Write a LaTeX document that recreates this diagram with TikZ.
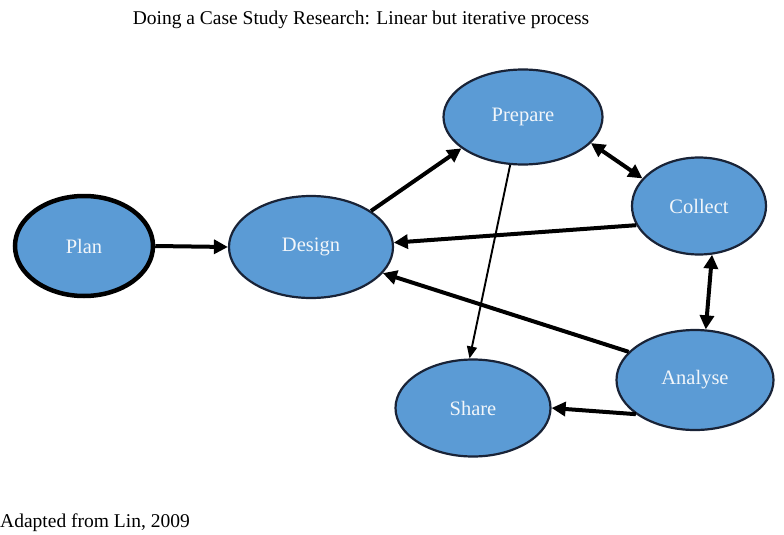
\documentclass[tikz,border=0pt]{standalone}
\usepackage{fontspec}
\setmainfont{Liberation Serif}
\usetikzlibrary{shapes.geometric,arrows.meta}
\definecolor{nodeblue}{RGB}{91,155,213}
\definecolor{nodeedge}{RGB}{25,35,55}
\definecolor{nodetext}{RGB}{242,246,250}
\tikzset{
  stage/.style={ellipse, draw=nodeedge, line width=2.2pt, fill=nodeblue, inner sep=0pt,
    text=nodetext, font=\fontsize{20.5}{24}\selectfont},
  flow/.style={line width=4pt, -{Triangle[length=14pt,width=14pt]}},
  twoway/.style={line width=4pt, {Triangle[length=14pt,width=14pt]}-{Triangle[length=14pt,width=14pt]}},
  thinflow/.style={line width=1.9pt, -{Triangle[length=12pt,width=10pt]}},
  caption/.style={font=\fontsize{19.5}{23}\selectfont, text=black, inner sep=0pt}
}
\begin{document}
\begin{tikzpicture}[x=1pt,y=-1pt]
\useasboundingbox (0,0) rectangle (784,535);
\node[caption] (title) at (361,20) {Doing a Case Study Research: Linear but iterative process};
\node[caption, anchor=west] (foot) at (0,523) {Adapted from Lin, 2009};

\node[stage, line width=4.5pt, draw=black, minimum width=138pt, minimum height=100pt] (plan) at (84,246) {Plan};
\node[stage, minimum width=164pt, minimum height=102pt] (design) at (311,247) {Design};
\node[stage, minimum width=159pt, minimum height=95pt] (prepare) at (523,117) {Prepare};
\node[stage, minimum width=134pt, minimum height=97pt] (collect) at (699,206) {Collect};
\node[stage, minimum width=157pt, minimum height=100pt] (analyse) at (695,380) {Analyse};
\node[stage, minimum width=155pt, minimum height=97pt] (share) at (473,408) {Share};

\draw[flow] (plan.east) -- (design.west);
\draw[flow] (design.31) -- (prepare.207);
\draw[twoway] (prepare.339) -- (collect.154);
\draw[flow] (collect.197) -- (design.3);
\draw[thinflow] (prepare.255) -- (share.94);
\draw[flow] (analyse.157) -- (design.340);
\draw[twoway] (collect.285) -- (analyse.78);
\draw[flow] (analyse.210) -- (share.0);
\end{tikzpicture}
\end{document}
